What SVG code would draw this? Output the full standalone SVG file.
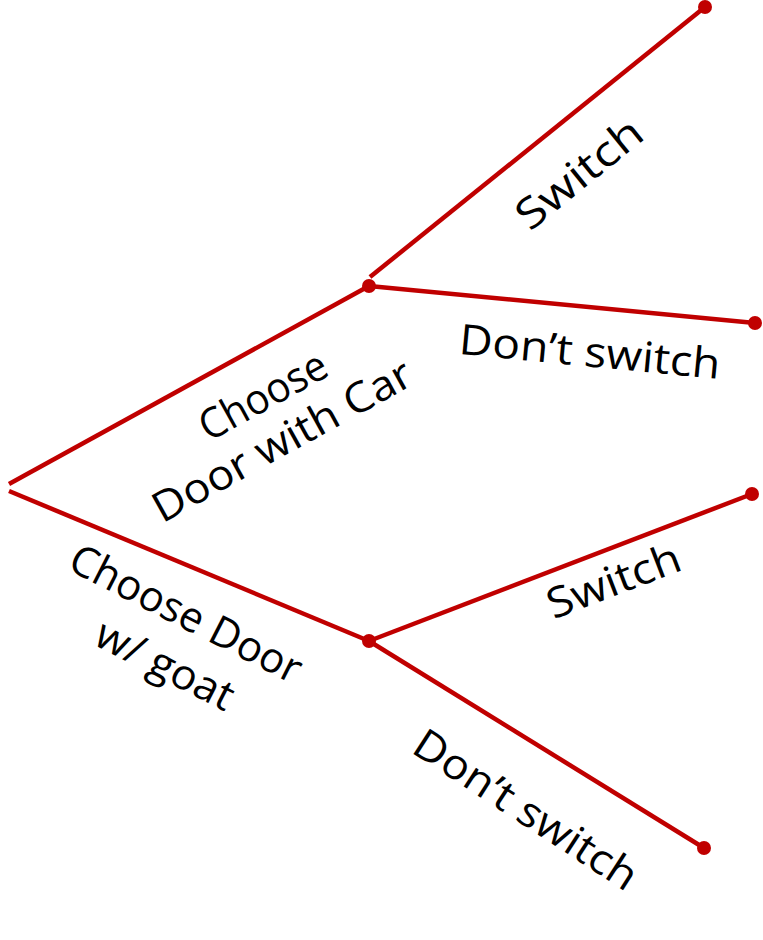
<svg xmlns="http://www.w3.org/2000/svg" width="763" height="940" viewBox="0 0 763 940">
<style>
.br{stroke:#c00000;stroke-width:4.5;fill:none;stroke-linecap:butt}
.dot{fill:#c00000}
.lbl{font-family:"Open Sans","DejaVu Sans",sans-serif;font-size:42px;fill:#000;text-anchor:middle;dominant-baseline:central}
</style>
<rect width="763" height="940" fill="#fff"/>
<g id="connectors">
<line class="br" x1="9" y1="484" x2="369" y2="286"/>
<line class="br" x1="9" y1="491" x2="369" y2="641"/>
<line class="br" x1="370" y1="277" x2="705" y2="7"/>
<line class="br" x1="369" y1="286" x2="755" y2="323"/>
<line class="br" x1="369" y1="641" x2="752" y2="494"/>
<line class="br" x1="369" y1="641" x2="704" y2="848"/>
</g>
<g id="node-car"><circle class="dot" cx="369" cy="286" r="7"/></g>
<g id="node-goat"><circle class="dot" cx="369" cy="641" r="7"/></g>
<g id="leaf-1"><circle class="dot" cx="705" cy="7" r="7"/></g>
<g id="leaf-2"><circle class="dot" cx="755" cy="323" r="7"/></g>
<g id="leaf-3"><circle class="dot" cx="752" cy="494" r="7"/></g>
<g id="leaf-4"><circle class="dot" cx="704" cy="848" r="7"/></g>
<g id="labels">
<text class="lbl" transform="translate(578,172) rotate(-39)" textLength="150" lengthAdjust="spacingAndGlyphs">Switch</text>
<text class="lbl" transform="translate(590,350) rotate(5.5)" textLength="262" lengthAdjust="spacingAndGlyphs">Don’t switch</text>
<text class="lbl" transform="translate(262,394) rotate(-29)" textLength="140" lengthAdjust="spacingAndGlyphs">Choose</text>
<text class="lbl" transform="translate(281,439) rotate(-29)" textLength="290" lengthAdjust="spacingAndGlyphs">Door with Car</text>
<text class="lbl" transform="translate(187,612) rotate(27)" textLength="255" lengthAdjust="spacingAndGlyphs">Choose Door</text>
<text class="lbl" transform="translate(166,663) rotate(27)" textLength="150" lengthAdjust="spacingAndGlyphs">w/ goat</text>
<text class="lbl" transform="translate(613,579) rotate(-21)" textLength="140" lengthAdjust="spacingAndGlyphs">Switch</text>
<text class="lbl" transform="translate(527,808) rotate(33)" textLength="258" lengthAdjust="spacingAndGlyphs">Don’t switch</text>
</g>
</svg>
